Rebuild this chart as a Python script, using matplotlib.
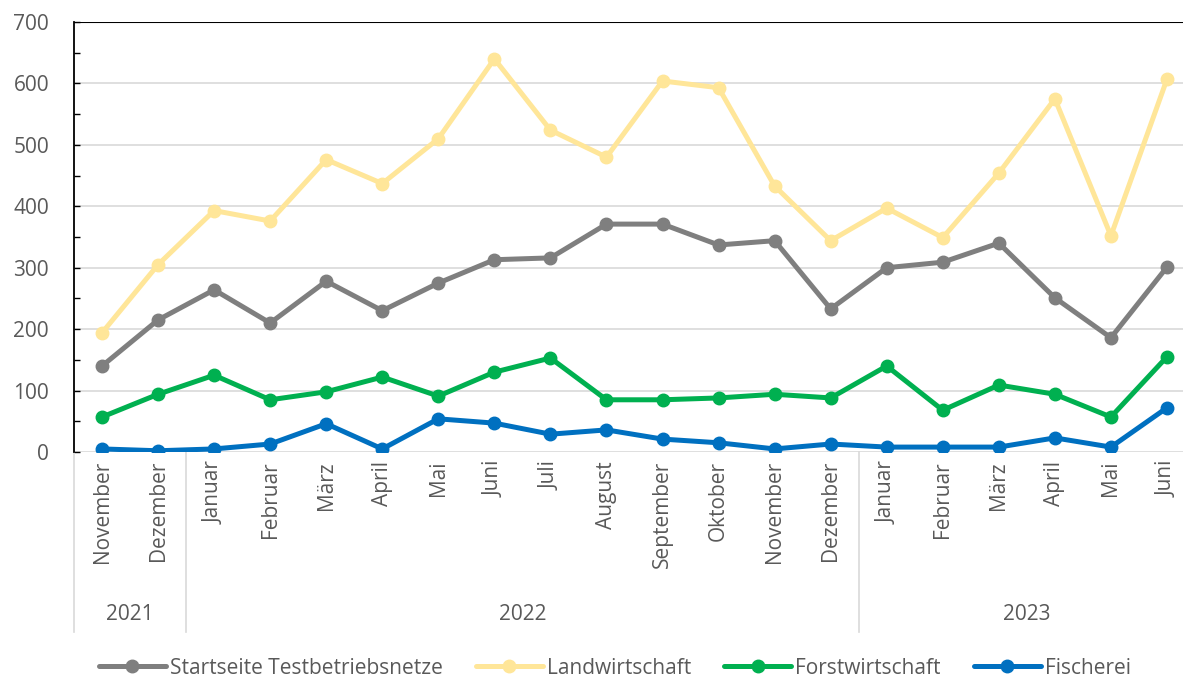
import matplotlib.pyplot as plt
from matplotlib.transforms import blended_transform_factory

plt.rcParams['font.family'] = ['Open Sans', 'DejaVu Sans']

months = ['November', 'Dezember', 'Januar', 'Februar', 'März', 'April', 'Mai', 'Juni',
          'Juli', 'August', 'September', 'Oktober', 'November', 'Dezember',
          'Januar', 'Februar', 'März', 'April', 'Mai', 'Juni']
years = ['2021', '2022', '2023']
year_counts = [2, 12, 6]

startseite = [140, 215, 264, 210, 278, 230, 275, 313, 316, 371, 371, 337, 344, 233,
              300, 309, 340, 251, 186, 301]
landwirtschaft = [194, 305, 393, 376, 476, 437, 510, 640, 524, 480, 604, 593, 433, 344,
                  397, 349, 454, 575, 352, 607]
forstwirtschaft = [57, 94, 125, 85, 98, 122, 91, 130, 153, 85, 85, 88, 94, 88,
                   140, 68, 109, 94, 57, 155]
fischerei = [5, 2, 5, 13, 46, 5, 54, 47, 29, 36, 21, 15, 5, 13,
             8, 8, 8, 23, 8, 72]

series = [
    ('Startseite Testbetriebsnetze', startseite, '#7F7F7F'),
    ('Landwirtschaft', landwirtschaft, '#FFE699'),
    ('Forstwirtschaft', forstwirtschaft, '#00B050'),
    ('Fischerei', fischerei, '#0070C0'),
]

FS = 15
W, H = 1183, 682
fig = plt.figure(figsize=(W / 100, H / 100), dpi=100)
left, right, top, bottom = 74, 1195, 22, 452
ax = fig.add_axes([left / W, 1 - bottom / H, (right - left) / W, (bottom - top) / H])

x = list(range(len(months)))
for name, vals, col in series:
    ax.plot(x, vals, color=col, lw=3.6, marker='o', ms=9, label=name,
            solid_capstyle='round', zorder=3)

ax.set_xlim(-0.5, len(months) - 0.5)
ax.set_ylim(0, 700)
ax.set_yticks(range(0, 701, 100))
ax.set_yticks(range(50, 700, 100), minor=True)
ax.tick_params(axis='y', which='both', direction='in', length=4, width=1,
               colors='black', labelcolor='#595959', labelsize=FS, pad=18)
ax.set_xticks([])
for y in range(100, 700, 100):
    ax.axhline(y, color='#D9D9D9', lw=1.2, zorder=1)
ax.axhline(700, color='black', lw=1.5, zorder=1)
ax.axhline(0, color='#D9D9D9', lw=1.2, zorder=1)
for s in ['top', 'right', 'bottom']:
    ax.spines[s].set_visible(False)
ax.spines['left'].set_color('black')
ax.spines['left'].set_linewidth(1.3)

trans = blended_transform_factory(ax.transData, fig.transFigure)
for i, m in enumerate(months):
    ax.text(i, 1 - 461 / H, m, transform=trans, rotation=90, ha='center', va='top',
            fontsize=FS, color='#595959')

# year groups and separators
sep_top, sep_bot = 1 - 452 / H, 1 - 632 / H
pos = -0.5
for yr, n in zip(years, year_counts):
    ax.plot([pos, pos], [sep_top, sep_bot], transform=trans, color='#D9D9D9',
            lw=1.2, clip_on=False)
    ax.text(pos + n / 2, 1 - 614 / H, yr, transform=trans, ha='center', va='center',
            fontsize=FS, color='#595959')
    pos += n

leg = fig.legend(loc='center', bbox_to_anchor=(615 / W, 1 - 668 / H), ncol=4,
                 frameon=False, fontsize=FS, handlelength=3.2, columnspacing=1.6,
                 handletextpad=0.2, labelcolor='#595959')

fig.savefig('out.png', dpi=100)
